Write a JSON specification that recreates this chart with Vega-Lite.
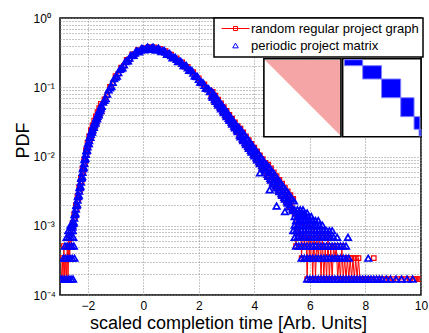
{
"$schema": "https://vega.github.io/schema/vega-lite/v6.json",
"width": 361, "height": 277,
"autosize": {"type": "none"},
"padding": {"left": 60, "top": 18, "right": 8, "bottom": 38},
"background": "white",
"config": {
  "font": "Liberation Sans",
  "view": {"stroke": "black", "strokeWidth": 1.5},
  "axis": {"ticks": false, "tickSize": 0, "domain": false, "grid": true, "gridColor": "#8a8a8a", "gridDash": [1, 2], "gridWidth": 1,
           "labelFont": "Liberation Sans", "labelFontSize": 12, "labelColor": "black", "titleFont": "Liberation Sans", "titleFontSize": 18, "titleFontWeight": "normal", "titleColor": "black", "labelOverlap": false, "labelBound": false, "labelFlush": false}
},
"datasets": {
  "blue": [
    {"x": -2.98, "y": 0.00017}, {"x": -2.92, "y": 0.00017}, {"x": -2.84, "y": 0.00017}, {"x": -2.76, "y": 0.00017}, {"x": -2.68, "y": 0.00017}, {"x": -2.6, "y": 0.00017}, {"x": -2.53, "y": 0.00017},
    {"x": -2.88, "y": 0.00034}, {"x": -2.8, "y": 0.00034}, {"x": -2.72, "y": 0.00034}, {"x": -2.64, "y": 0.00034}, {"x": -2.56, "y": 0.00034}, {"x": -2.48, "y": 0.00034},
    {"x": -2.82, "y": 0.00051}, {"x": -2.74, "y": 0.00051}, {"x": -2.66, "y": 0.00051}, {"x": -2.58, "y": 0.00051}, {"x": -2.5, "y": 0.00051},
    {"x": -2.76, "y": 0.00068}, {"x": -2.68, "y": 0.00068}, {"x": -2.6, "y": 0.00068}, {"x": -2.52, "y": 0.00068},
    {"x": -2.7, "y": 0.00085}, {"x": -2.62, "y": 0.00085}, {"x": -2.54, "y": 0.00085},
    {"x": -2.62, "y": 0.00102}, {"x": -2.56, "y": 0.00102},
    {"x": -2.55, "y": 0.000955}, {"x": -2.52, "y": 0.001096}, {"x": -2.49, "y": 0.001288}, {"x": -2.46, "y": 0.001479}, {"x": -2.43, "y": 0.001738}, {"x": -2.4, "y": 0.001995},
    {"x": -2.37, "y": 0.002344}, {"x": -2.34, "y": 0.002692}, {"x": -2.31, "y": 0.003162}, {"x": -2.28, "y": 0.003631}, {"x": -2.25, "y": 0.004266}, {"x": -2.22, "y": 0.005012},
    {"x": -2.19, "y": 0.005888}, {"x": -2.16, "y": 0.006918}, {"x": -2.13, "y": 0.007943}, {"x": -2.1, "y": 0.009333}, {"x": -2.07, "y": 0.01072}, {"x": -2.04, "y": 0.0123},
    {"x": -2.01, "y": 0.0138}, {"x": -1.98, "y": 0.01549}, {"x": -1.95, "y": 0.01698}, {"x": -1.92, "y": 0.01905}, {"x": -1.89, "y": 0.02089}, {"x": -1.86, "y": 0.02291},
    {"x": -1.83, "y": 0.02455}, {"x": -1.8, "y": 0.02692}, {"x": -1.77, "y": 0.02884}, {"x": -1.74, "y": 0.0309}, {"x": -1.71, "y": 0.03311}, {"x": -1.68, "y": 0.03548},
    {"x": -1.65, "y": 0.03802}, {"x": -1.62, "y": 0.04074}, {"x": -1.59, "y": 0.04365}, {"x": -1.56, "y": 0.04677}, {"x": -1.53, "y": 0.05012}, {"x": -1.5, "y": 0.0531},
    {"x": -2.535, "y": 0.001074}, {"x": -2.505, "y": 0.001129}, {"x": -2.475, "y": 0.001449}, {"x": -2.445, "y": 0.001523}, {"x": -2.415, "y": 0.001955}, {"x": -2.385, "y": 0.002055},
    {"x": -2.355, "y": 0.002638}, {"x": -2.325, "y": 0.002771}, {"x": -2.295, "y": 0.003557}, {"x": -2.265, "y": 0.003739}, {"x": -2.235, "y": 0.004855}, {"x": -2.205, "y": 0.005161},
    {"x": -2.175, "y": 0.006702}, {"x": -2.145, "y": 0.007042}, {"x": -2.115, "y": 0.00904}, {"x": -2.085, "y": 0.0095}, {"x": -2.055, "y": 0.01205}, {"x": -2.025, "y": 0.01238},
    {"x": -1.995, "y": 0.01535}, {"x": -1.965, "y": 0.01541}, {"x": -1.935, "y": 0.01889}, {"x": -1.905, "y": 0.01895}, {"x": -1.875, "y": 0.02297}, {"x": -1.845, "y": 0.02253},
    {"x": -1.815, "y": 0.027}, {"x": -1.785, "y": 0.02647}, {"x": -1.755, "y": 0.03134}, {"x": -1.725, "y": 0.03039}, {"x": -1.695, "y": 0.03599}, {"x": -1.665, "y": 0.03489},
    {"x": -1.635, "y": 0.04133}, {"x": -1.605, "y": 0.04006}, {"x": -1.575, "y": 0.04744}, {"x": -1.545, "y": 0.046}, {"x": -1.515, "y": 0.05417},
    {"x": -1.4, "y": 0.06457}, {"x": -1.3, "y": 0.07943}, {"x": -1.2, "y": 0.09772}, {"x": -1.1, "y": 0.1175}, {"x": -1.0, "y": 0.1396}, {"x": -0.9, "y": 0.1622},
    {"x": -0.8, "y": 0.1862}, {"x": -0.7, "y": 0.2113}, {"x": -0.6, "y": 0.2399}, {"x": -0.5, "y": 0.263}, {"x": -0.4, "y": 0.2884}, {"x": -0.3, "y": 0.3126},
    {"x": -0.2, "y": 0.3311}, {"x": -0.1, "y": 0.3467}, {"x": 0.0, "y": 0.3565}, {"x": 0.1, "y": 0.3639}, {"x": 0.2, "y": 0.3681}, {"x": 0.3, "y": 0.3681},
    {"x": 0.4, "y": 0.3631}, {"x": 0.5, "y": 0.3556}, {"x": 0.6, "y": 0.3467}, {"x": 0.7, "y": 0.335}, {"x": 0.8, "y": 0.3206}, {"x": 0.9, "y": 0.3041},
    {"x": 1.0, "y": 0.2864}, {"x": 1.1, "y": 0.2698}, {"x": 1.2, "y": 0.2529}, {"x": 1.3, "y": 0.2371}, {"x": 1.4, "y": 0.2213}, {"x": 1.5, "y": 0.2056},
    {"x": 1.6, "y": 0.1905}, {"x": 1.7, "y": 0.1762}, {"x": 1.8, "y": 0.1596}, {"x": 1.9, "y": 0.1442}, {"x": 2.0, "y": 0.1303}, {"x": 2.1, "y": 0.1178},
    {"x": 2.2, "y": 0.1064}, {"x": 2.3, "y": 0.09616}, {"x": 2.4, "y": 0.0867},
    {"x": -1.45, "y": 0.0609}, {"x": -1.35, "y": 0.06875}, {"x": -1.25, "y": 0.09162}, {"x": -1.15, "y": 0.1029}, {"x": -1.05, "y": 0.1332}, {"x": -0.95, "y": 0.1445},
    {"x": -0.85, "y": 0.1808}, {"x": -0.75, "y": 0.1905}, {"x": -0.65, "y": 0.2341}, {"x": -0.55, "y": 0.2412}, {"x": -0.45, "y": 0.2864}, {"x": -0.35, "y": 0.2883},
    {"x": -0.25, "y": 0.3346}, {"x": -0.15, "y": 0.3252}, {"x": -0.05, "y": 0.3657}, {"x": 0.05, "y": 0.3458}, {"x": 0.15, "y": 0.3806}, {"x": 0.25, "y": 0.3534},
    {"x": 0.35, "y": 0.3802}, {"x": 0.45, "y": 0.3449}, {"x": 0.55, "y": 0.3651}, {"x": 0.65, "y": 0.3272}, {"x": 0.75, "y": 0.3408}, {"x": 0.85, "y": 0.2997},
    {"x": 0.95, "y": 0.3069}, {"x": 1.05, "y": 0.2669}, {"x": 1.15, "y": 0.2716}, {"x": 1.25, "y": 0.2351}, {"x": 1.35, "y": 0.2383}, {"x": 1.45, "y": 0.2048},
    {"x": 1.55, "y": 0.2058}, {"x": 1.65, "y": 0.1759}, {"x": 1.75, "y": 0.1744}, {"x": 1.85, "y": 0.1456}, {"x": 1.95, "y": 0.1426}, {"x": 2.05, "y": 0.1189},
    {"x": 2.15, "y": 0.1165}, {"x": 2.25, "y": 0.09712}, {"x": 2.35, "y": 0.09496},
    {"x": 2.45, "y": 0.08718}, {"x": 2.5, "y": 0.07129}, {"x": 2.55, "y": 0.07685}, {"x": 2.6, "y": 0.06281}, {"x": 2.65, "y": 0.0677}, {"x": 2.7, "y": 0.05534},
    {"x": 2.75, "y": 0.05963}, {"x": 2.8, "y": 0.04875}, {"x": 2.85, "y": 0.05254}, {"x": 2.9, "y": 0.04295}, {"x": 2.95, "y": 0.04628}, {"x": 3.0, "y": 0.03784},
    {"x": 3.05, "y": 0.04078}, {"x": 3.1, "y": 0.03334}, {"x": 3.15, "y": 0.03593}, {"x": 3.2, "y": 0.02938}, {"x": 3.25, "y": 0.03166}, {"x": 3.3, "y": 0.02588},
    {"x": 3.35, "y": 0.02789}, {"x": 3.4, "y": 0.0228}, {"x": 3.45, "y": 0.02573}, {"x": 3.5, "y": 0.01919}, {"x": 3.55, "y": 0.02267}, {"x": 3.6, "y": 0.0169},
    {"x": 3.65, "y": 0.01998}, {"x": 3.7, "y": 0.01489}, {"x": 3.75, "y": 0.0176}, {"x": 3.8, "y": 0.01312}, {"x": 3.85, "y": 0.01551}, {"x": 3.9, "y": 0.01156},
    {"x": 3.95, "y": 0.01366}, {"x": 4.0, "y": 0.01019}, {"x": 4.05, "y": 0.01203}, {"x": 4.1, "y": 0.00898}, {"x": 4.15, "y": 0.0106}, {"x": 4.2, "y": 0.00791},
    {"x": 4.25, "y": 0.00934}, {"x": 4.3, "y": 0.00697}, {"x": 4.35, "y": 0.00823}, {"x": 4.4, "y": 0.00614}, {"x": 4.45, "y": 0.0076}, {"x": 4.5, "y": 0.00516},
    {"x": 4.55, "y": 0.00669}, {"x": 4.6, "y": 0.00455}, {"x": 4.65, "y": 0.00589}, {"x": 4.7, "y": 0.00401}, {"x": 4.75, "y": 0.00519}, {"x": 4.8, "y": 0.00353},
    {"x": 4.85, "y": 0.00457}, {"x": 4.9, "y": 0.00311}, {"x": 4.95, "y": 0.00403}, {"x": 5.0, "y": 0.00274}, {"x": 5.05, "y": 0.00355}, {"x": 5.1, "y": 0.00242},
    {"x": 5.15, "y": 0.00313}, {"x": 5.2, "y": 0.00213}, {"x": 5.25, "y": 0.00276}, {"x": 5.3, "y": 0.00187}, {"x": 5.35, "y": 0.00243}, {"x": 5.4, "y": 0.00165},
    {"x": 2.475, "y": 0.07593}, {"x": 2.525, "y": 0.08184}, {"x": 2.575, "y": 0.06694}, {"x": 2.625, "y": 0.07211}, {"x": 2.675, "y": 0.05897}, {"x": 2.725, "y": 0.06353},
    {"x": 2.775, "y": 0.05194}, {"x": 2.825, "y": 0.05597}, {"x": 2.875, "y": 0.04576}, {"x": 2.925, "y": 0.04931}, {"x": 2.975, "y": 0.04031}, {"x": 3.025, "y": 0.04344},
    {"x": 3.075, "y": 0.03552}, {"x": 3.125, "y": 0.03827}, {"x": 3.175, "y": 0.0313}, {"x": 3.225, "y": 0.03373}, {"x": 3.275, "y": 0.02758}, {"x": 3.325, "y": 0.02971},
    {"x": 3.375, "y": 0.02429}, {"x": 3.425, "y": 0.02617}, {"x": 3.475, "y": 0.02043}, {"x": 3.525, "y": 0.02416}, {"x": 3.575, "y": 0.018}, {"x": 3.625, "y": 0.02128},
    {"x": 3.675, "y": 0.01586}, {"x": 3.725, "y": 0.01875}, {"x": 3.775, "y": 0.01397}, {"x": 3.825, "y": 0.01652}, {"x": 3.875, "y": 0.01231}, {"x": 3.925, "y": 0.01455},
    {"x": 3.975, "y": 0.01085}, {"x": 4.025, "y": 0.01283}, {"x": 4.075, "y": 0.00955}, {"x": 4.125, "y": 0.01131}, {"x": 4.175, "y": 0.00842}, {"x": 4.225, "y": 0.00996},
    {"x": 4.275, "y": 0.00742}, {"x": 4.325, "y": 0.00878}, {"x": 4.375, "y": 0.00653}, {"x": 4.425, "y": 0.00773}, {"x": 4.475, "y": 0.00551}, {"x": 4.525, "y": 0.00712},
    {"x": 4.575, "y": 0.00485}, {"x": 4.625, "y": 0.00628}, {"x": 4.675, "y": 0.00427}, {"x": 4.725, "y": 0.00553}, {"x": 4.775, "y": 0.00376}, {"x": 4.825, "y": 0.00487},
    {"x": 4.875, "y": 0.00331}, {"x": 4.925, "y": 0.00429}, {"x": 4.975, "y": 0.00292}, {"x": 5.025, "y": 0.00378}, {"x": 5.075, "y": 0.00257}, {"x": 5.125, "y": 0.00334},
    {"x": 5.175, "y": 0.00227}, {"x": 5.225, "y": 0.00294}, {"x": 5.275, "y": 0.002}, {"x": 5.325, "y": 0.00258}, {"x": 5.375, "y": 0.00176}, {"x": 5.425, "y": 0.00228},
    {"x": 4.2, "y": 0.0058}, {"x": 4.55, "y": 0.0033}, {"x": 4.8, "y": 0.00193}, {"x": 5.1, "y": 0.0016},
    {"x": 5.45, "y": 0.0017}, {"x": 5.55, "y": 0.0017}, {"x": 5.65, "y": 0.0017}, {"x": 5.75, "y": 0.0017},
    {"x": 5.5, "y": 0.00153}, {"x": 5.6, "y": 0.00153}, {"x": 5.7, "y": 0.00153}, {"x": 5.8, "y": 0.00153}, {"x": 5.9, "y": 0.00153},
    {"x": 5.45, "y": 0.00136}, {"x": 5.55, "y": 0.00136}, {"x": 5.65, "y": 0.00136}, {"x": 5.75, "y": 0.00136}, {"x": 5.85, "y": 0.00136}, {"x": 5.95, "y": 0.00136}, {"x": 6.05, "y": 0.00136},
    {"x": 5.5, "y": 0.00119}, {"x": 5.6, "y": 0.00119}, {"x": 5.7, "y": 0.00119}, {"x": 5.8, "y": 0.00119}, {"x": 5.9, "y": 0.00119}, {"x": 6.0, "y": 0.00119}, {"x": 6.1, "y": 0.00119}, {"x": 6.2, "y": 0.00119}, {"x": 6.3, "y": 0.00119},
    {"x": 5.45, "y": 0.00102}, {"x": 5.55, "y": 0.00102}, {"x": 5.65, "y": 0.00102}, {"x": 5.75, "y": 0.00102}, {"x": 5.85, "y": 0.00102}, {"x": 5.95, "y": 0.00102}, {"x": 6.05, "y": 0.00102}, {"x": 6.15, "y": 0.00102}, {"x": 6.25, "y": 0.00102}, {"x": 6.35, "y": 0.00102}, {"x": 6.45, "y": 0.00102},
    {"x": 5.4, "y": 0.00085}, {"x": 5.5, "y": 0.00085}, {"x": 5.6, "y": 0.00085}, {"x": 5.7, "y": 0.00085}, {"x": 5.8, "y": 0.00085}, {"x": 5.9, "y": 0.00085}, {"x": 6.0, "y": 0.00085}, {"x": 6.1, "y": 0.00085}, {"x": 6.2, "y": 0.00085}, {"x": 6.3, "y": 0.00085}, {"x": 6.4, "y": 0.00085}, {"x": 6.5, "y": 0.00085}, {"x": 6.6, "y": 0.00085}, {"x": 6.7, "y": 0.00085}, {"x": 6.8, "y": 0.00085},
    {"x": 5.45, "y": 0.00068}, {"x": 5.55, "y": 0.00068}, {"x": 5.65, "y": 0.00068}, {"x": 5.75, "y": 0.00068}, {"x": 5.85, "y": 0.00068}, {"x": 5.95, "y": 0.00068}, {"x": 6.05, "y": 0.00068}, {"x": 6.15, "y": 0.00068}, {"x": 6.25, "y": 0.00068}, {"x": 6.35, "y": 0.00068}, {"x": 6.45, "y": 0.00068}, {"x": 6.55, "y": 0.00068}, {"x": 6.65, "y": 0.00068}, {"x": 6.75, "y": 0.00068}, {"x": 6.85, "y": 0.00068}, {"x": 6.98, "y": 0.00068}, {"x": 7.37, "y": 0.00068},
    {"x": 5.5, "y": 0.00051}, {"x": 5.6, "y": 0.00051}, {"x": 5.7, "y": 0.00051}, {"x": 5.8, "y": 0.00051}, {"x": 5.9, "y": 0.00051}, {"x": 6.0, "y": 0.00051}, {"x": 6.1, "y": 0.00051}, {"x": 6.2, "y": 0.00051}, {"x": 6.3, "y": 0.00051}, {"x": 6.4, "y": 0.00051}, {"x": 6.5, "y": 0.00051}, {"x": 6.6, "y": 0.00051}, {"x": 6.7, "y": 0.00051}, {"x": 6.8, "y": 0.00051}, {"x": 6.9, "y": 0.00051}, {"x": 7.0, "y": 0.00051}, {"x": 7.1, "y": 0.00051}, {"x": 7.2, "y": 0.00051}, {"x": 7.3, "y": 0.00051},
    {"x": 5.7, "y": 0.00034}, {"x": 5.8, "y": 0.00034}, {"x": 5.9, "y": 0.00034}, {"x": 6.0, "y": 0.00034}, {"x": 6.1, "y": 0.00034}, {"x": 6.2, "y": 0.00034}, {"x": 6.3, "y": 0.00034}, {"x": 6.4, "y": 0.00034}, {"x": 6.5, "y": 0.00034}, {"x": 6.6, "y": 0.00034}, {"x": 6.7, "y": 0.00034}, {"x": 6.8, "y": 0.00034}, {"x": 6.9, "y": 0.00034}, {"x": 7.0, "y": 0.00034}, {"x": 7.1, "y": 0.00034}, {"x": 7.2, "y": 0.00034}, {"x": 7.3, "y": 0.00034}, {"x": 7.4, "y": 0.00034}, {"x": 8.1, "y": 0.00034},
    {"x": 5.9, "y": 0.00017}, {"x": 6.0, "y": 0.00017}, {"x": 6.1, "y": 0.00017}, {"x": 6.2, "y": 0.00017}, {"x": 6.3, "y": 0.00017}, {"x": 6.4, "y": 0.00017}, {"x": 6.5, "y": 0.00017}, {"x": 6.6, "y": 0.00017}, {"x": 6.7, "y": 0.00017}, {"x": 6.8, "y": 0.00017},
    {"x": 6.9, "y": 0.00017}, {"x": 7.0, "y": 0.00017}, {"x": 7.1, "y": 0.00017}, {"x": 7.2, "y": 0.00017}, {"x": 7.3, "y": 0.00017}, {"x": 7.4, "y": 0.00017}, {"x": 7.5, "y": 0.00017}, {"x": 7.6, "y": 0.00017}, {"x": 7.7, "y": 0.00017}, {"x": 7.8, "y": 0.00017},
    {"x": 7.9, "y": 0.00017}, {"x": 8.0, "y": 0.00017}, {"x": 8.1, "y": 0.00017}, {"x": 8.2, "y": 0.00017}, {"x": 8.3, "y": 0.00017}, {"x": 8.4, "y": 0.00017}, {"x": 8.5, "y": 0.00017}, {"x": 8.6, "y": 0.00017},
    {"x": 8.75, "y": 0.00017}, {"x": 8.9, "y": 0.00017}, {"x": 9.1, "y": 0.00017}, {"x": 9.3, "y": 0.00017}, {"x": 9.5, "y": 0.00017}, {"x": 9.7, "y": 0.00017}
  ],
  "red": [
    {"x": -2.98, "y": 0.00017}, {"x": -2.95, "y": 0.00017}, {"x": -2.92, "y": 0.00034}, {"x": -2.89, "y": 0.00017}, {"x": -2.86, "y": 0.00051}, {"x": -2.83, "y": 0.00017},
    {"x": -2.8, "y": 0.00034}, {"x": -2.77, "y": 0.00017}, {"x": -2.74, "y": 0.00051}, {"x": -2.71, "y": 0.00017}, {"x": -2.68, "y": 0.00068}, {"x": -2.65, "y": 0.00034},
    {"x": -2.62, "y": 0.00085}, {"x": -2.59, "y": 0.00051},
    {"x": -2.55, "y": 0.001096}, {"x": -2.52, "y": 0.000955}, {"x": -2.49, "y": 0.001479}, {"x": -2.46, "y": 0.001288}, {"x": -2.43, "y": 0.001995}, {"x": -2.4, "y": 0.001738},
    {"x": -2.37, "y": 0.002692}, {"x": -2.34, "y": 0.002344}, {"x": -2.31, "y": 0.003631}, {"x": -2.28, "y": 0.003162}, {"x": -2.25, "y": 0.004898}, {"x": -2.22, "y": 0.004365},
    {"x": -2.19, "y": 0.006761}, {"x": -2.16, "y": 0.006026}, {"x": -2.13, "y": 0.00912}, {"x": -2.1, "y": 0.008128}, {"x": -2.07, "y": 0.0123}, {"x": -2.04, "y": 0.01072},
    {"x": -2.01, "y": 0.01585}, {"x": -1.98, "y": 0.01349}, {"x": -1.95, "y": 0.0195}, {"x": -1.92, "y": 0.0166}, {"x": -1.89, "y": 0.02399}, {"x": -1.86, "y": 0.01995},
    {"x": -1.83, "y": 0.02818}, {"x": -1.8, "y": 0.02344}, {"x": -1.77, "y": 0.03311}, {"x": -1.74, "y": 0.02692}, {"x": -1.71, "y": 0.03802}, {"x": -1.68, "y": 0.0309},
    {"x": -1.65, "y": 0.04365}, {"x": -1.62, "y": 0.03548}, {"x": -1.59, "y": 0.05012}, {"x": -1.56, "y": 0.04074}, {"x": -1.53, "y": 0.05754}, {"x": -1.5, "y": 0.04624},
    {"x": -1.4, "y": 0.06683}, {"x": -1.3, "y": 0.07674}, {"x": -1.2, "y": 0.1011}, {"x": -1.1, "y": 0.1135}, {"x": -1.0, "y": 0.1445}, {"x": -0.9, "y": 0.1567},
    {"x": -0.8, "y": 0.1927}, {"x": -0.7, "y": 0.2042}, {"x": -0.6, "y": 0.2483}, {"x": -0.5, "y": 0.2541}, {"x": -0.4, "y": 0.2985}, {"x": -0.3, "y": 0.302},
    {"x": -0.2, "y": 0.3427}, {"x": -0.1, "y": 0.335}, {"x": 0.0, "y": 0.369}, {"x": 0.1, "y": 0.3516}, {"x": 0.2, "y": 0.381}, {"x": 0.3, "y": 0.3557},
    {"x": 0.4, "y": 0.3758}, {"x": 0.5, "y": 0.3436}, {"x": 0.6, "y": 0.3588}, {"x": 0.7, "y": 0.3237}, {"x": 0.8, "y": 0.3318}, {"x": 0.9, "y": 0.2938},
    {"x": 1.0, "y": 0.2964}, {"x": 1.1, "y": 0.2607}, {"x": 1.2, "y": 0.2618}, {"x": 1.3, "y": 0.2291}, {"x": 1.4, "y": 0.229}, {"x": 1.5, "y": 0.1986},
    {"x": 1.6, "y": 0.1972}, {"x": 1.7, "y": 0.1702}, {"x": 1.8, "y": 0.1652}, {"x": 1.9, "y": 0.1393}, {"x": 2.0, "y": 0.1349}, {"x": 2.1, "y": 0.1138},
    {"x": 2.2, "y": 0.1101}, {"x": 2.3, "y": 0.09291}, {"x": 2.4, "y": 0.08973},
    {"x": 2.45, "y": 0.07254}, {"x": 2.5, "y": 0.0857}, {"x": 2.55, "y": 0.0639}, {"x": 2.6, "y": 0.07551}, {"x": 2.65, "y": 0.05631}, {"x": 2.7, "y": 0.06653},
    {"x": 2.75, "y": 0.04959}, {"x": 2.8, "y": 0.05861}, {"x": 2.85, "y": 0.0437}, {"x": 2.9, "y": 0.05164}, {"x": 2.95, "y": 0.0385}, {"x": 3.0, "y": 0.0455},
    {"x": 3.05, "y": 0.03392}, {"x": 3.1, "y": 0.04009}, {"x": 3.15, "y": 0.02988}, {"x": 3.2, "y": 0.03532}, {"x": 3.25, "y": 0.02633}, {"x": 3.3, "y": 0.03112},
    {"x": 3.35, "y": 0.0232}, {"x": 3.4, "y": 0.02742}, {"x": 3.45, "y": 0.01952}, {"x": 3.5, "y": 0.02529}, {"x": 3.55, "y": 0.01719}, {"x": 3.6, "y": 0.02228},
    {"x": 3.65, "y": 0.01515}, {"x": 3.7, "y": 0.01963}, {"x": 3.75, "y": 0.01335}, {"x": 3.8, "y": 0.0173}, {"x": 3.85, "y": 0.01176}, {"x": 3.9, "y": 0.01524},
    {"x": 3.95, "y": 0.01036}, {"x": 4.0, "y": 0.01343}, {"x": 4.05, "y": 0.00913}, {"x": 4.1, "y": 0.01183}, {"x": 4.15, "y": 0.00804}, {"x": 4.2, "y": 0.01042},
    {"x": 4.25, "y": 0.00709}, {"x": 4.3, "y": 0.00918}, {"x": 4.35, "y": 0.00625}, {"x": 4.4, "y": 0.00809}, {"x": 4.45, "y": 0.00513}, {"x": 4.5, "y": 0.00764},
    {"x": 4.55, "y": 0.00452}, {"x": 4.6, "y": 0.00673}, {"x": 4.65, "y": 0.00399}, {"x": 4.7, "y": 0.00593}, {"x": 4.75, "y": 0.00351}, {"x": 4.8, "y": 0.00522},
    {"x": 4.85, "y": 0.00309}, {"x": 4.9, "y": 0.0046}, {"x": 4.95, "y": 0.00273}, {"x": 5.0, "y": 0.00406}, {"x": 5.05, "y": 0.0024}, {"x": 5.1, "y": 0.00357},
    {"x": 5.15, "y": 0.00212}, {"x": 5.2, "y": 0.00315}, {"x": 5.25, "y": 0.00186}, {"x": 5.3, "y": 0.00277}, {"x": 5.35, "y": 0.00164}, {"x": 5.4, "y": 0.00244},
    {"x": 5.45, "y": 0.00153}, {"x": 5.5, "y": 0.00051}, {"x": 5.55, "y": 0.00136}, {"x": 5.6, "y": 0.00068}, {"x": 5.65, "y": 0.00119}, {"x": 5.7, "y": 0.00034},
    {"x": 5.75, "y": 0.00136}, {"x": 5.8, "y": 0.00051}, {"x": 5.85, "y": 0.00102}, {"x": 5.9, "y": 0.00017}, {"x": 5.95, "y": 0.00085}, {"x": 6.0, "y": 0.00034},
    {"x": 6.05, "y": 0.00102}, {"x": 6.1, "y": 0.00017}, {"x": 6.15, "y": 0.00085}, {"x": 6.2, "y": 0.00017}, {"x": 6.25, "y": 0.00068}, {"x": 6.3, "y": 0.00034},
    {"x": 6.35, "y": 0.00085}, {"x": 6.4, "y": 0.00017}, {"x": 6.45, "y": 0.00068}, {"x": 6.5, "y": 0.00017}, {"x": 6.55, "y": 0.00051}, {"x": 6.6, "y": 0.00017},
    {"x": 6.65, "y": 0.00068}, {"x": 6.7, "y": 0.00017}, {"x": 6.75, "y": 0.00051}, {"x": 6.8, "y": 0.00017}, {"x": 6.85, "y": 0.00051}, {"x": 6.9, "y": 0.00034},
    {"x": 6.95, "y": 0.00051}, {"x": 7.0, "y": 0.00017}, {"x": 7.05, "y": 0.00034}, {"x": 7.1, "y": 0.00017}, {"x": 7.15, "y": 0.00051}, {"x": 7.2, "y": 0.00017},
    {"x": 7.25, "y": 0.00034}, {"x": 7.3, "y": 0.00017}, {"x": 7.35, "y": 0.00034}, {"x": 7.4, "y": 0.00017}, {"x": 7.45, "y": 0.00034}, {"x": 7.5, "y": 0.00017},
    {"x": 7.55, "y": 0.00034}, {"x": 7.6, "y": 0.00017}, {"x": 7.65, "y": 0.00034}, {"x": 7.7, "y": 0.00017}, {"x": 7.75, "y": 0.00034}, {"x": 7.8, "y": 0.00017},
    {"x": 7.9, "y": 0.00017}, {"x": 8.0, "y": 0.00017}, {"x": 8.1, "y": 0.00017}, {"x": 8.2, "y": 0.00017},
    {"x": 8.25, "y": null}, {"x": 8.3, "y": 0.00034}, {"x": 8.35, "y": null},
    {"x": 8.45, "y": 0.00017}, {"x": 8.6, "y": 0.00017}, {"x": 8.75, "y": 0.00017}, {"x": 8.85, "y": 0.00017}, {"x": 9.0, "y": 0.00017}, {"x": 9.15, "y": 0.00017},
    {"x": 9.3, "y": 0.00017}, {"x": 9.45, "y": 0.00017}, {"x": 9.6, "y": 0.00017}, {"x": 9.75, "y": 0.00017}, {"x": 9.85, "y": 0.00017}, {"x": 9.96, "y": 0.00017}
  ],
  "boxes": [
    {"x": 4.342, "x2": 7.117, "y": 0.0193, "y2": 0.258},
    {"x": 7.178, "x2": 10, "y": 0.0193, "y2": 0.258}
  ],
  "triangle": [
    {"x": 4.38, "y": 0.247, "y2": 0.247},
    {"x": 7.08, "y": 0.247, "y2": 0.0205}
  ],
  "blocks": [
    {"x": 7.24, "x2": 7.9, "y": 0.25, "y2": 0.205},
    {"x": 7.9, "x2": 8.58, "y": 0.205, "y2": 0.1316},
    {"x": 8.58, "x2": 9.27, "y": 0.1316, "y2": 0.0706},
    {"x": 9.27, "x2": 9.75, "y": 0.0706, "y2": 0.0376},
    {"x": 9.75, "x2": 9.96, "y": 0.0376, "y2": 0.0247},
    {"x": 9.93, "x2": 10, "y": 0.0247, "y2": 0.0198}
  ]
},
"encoding": {
  "x": {"field": "x", "type": "quantitative",
        "scale": {"domain": [-3, 10], "nice": false, "zero": false},
        "axis": {"values": [-2, 0, 2, 4, 6, 8, 10], "labelPadding": 5, "title": "scaled completion time [Arb. Units]",
                 "titleX": 168, "titleY": 33, "titleBaseline": "alphabetic", "titleAlign": "center"}},
  "y": {"field": "y", "type": "quantitative",
        "scale": {"type": "log", "domain": [0.0001, 1], "nice": false},
        "axis": {"values": [0.0001, 0.0002, 0.0003, 0.0004, 0.0005, 0.0006, 0.0007, 0.0008, 0.0009, 0.001, 0.002, 0.003, 0.004, 0.005, 0.006, 0.007, 0.008, 0.009, 0.01, 0.02, 0.03, 0.04, 0.05, 0.06, 0.07, 0.08, 0.09, 0.1, 0.2, 0.3, 0.4, 0.5, 0.6, 0.7, 0.8, 0.9, 1],
                 "labelExpr": "datum.value == 1 ? '10⁰' : datum.value == 0.1 ? '10⁻¹' : datum.value == 0.01 ? '10⁻²' : datum.value == 0.001 ? '10⁻³' : datum.value == 0.0001 ? '10⁻⁴' : ''",
                 "labelAlign": "left", "labelPadding": 27, "title": "PDF",
                 "titleX": -32, "titleY": 122, "titleBaseline": "alphabetic", "titleAlign": "center", "titleAngle": 270}}
},
"layer": [
  {"data": {"name": "red"},
   "mark": {"type": "line", "strokeWidth": 1, "clip": true, "invalid": "break-paths-filter-domains"},
   "encoding": {"color": {"datum": "random regular project graph", "type": "nominal",
     "scale": {"domain": ["random regular project graph", "periodic project matrix"], "range": ["#ff0000", "#0000ff"]},
     "legend": {"orient": "none", "legendX": 154, "legendY": 0, "title": null, "fillColor": "white", "strokeColor": "black",
       "padding": 4, "rowPadding": 3, "labelFont": "Liberation Sans", "labelFontSize": 13, "labelColor": "black", "labelLimit": 400,
       "labelOffset": 9, "symbolOffset": 11, "symbolSize": 100, "symbolStrokeWidth": 1,
       "encode": {
         "symbols": {"update": {
           "shape": {"signal": "datum.value == 'random regular project graph' ? 'M-2.8,0H2.8M-0.4,-0.4H0.4V0.4H-0.4Z' : 'triangle-up'"},
           "size": {"signal": "datum.value == 'random regular project graph' ? 100 : 30"},
           "fill": {"value": "transparent"}, "strokeWidth": {"value": 1}}},
         "legend": {"update": {"strokeWidth": {"value": 1.5}}}}}}}},
  {"data": {"name": "red"},
   "mark": {"type": "point", "shape": "square", "filled": false, "size": 20, "strokeWidth": 1.2, "opacity": 1, "clip": true},
   "encoding": {"color": {"datum": "random regular project graph", "type": "nominal"}}},
  {"data": {"name": "blue"},
   "mark": {"type": "point", "shape": "triangle-up", "filled": false, "size": 42, "strokeWidth": 1.7, "opacity": 1, "clip": true},
   "encoding": {"color": {"datum": "periodic project matrix", "type": "nominal"}}},
  {"data": {"name": "boxes"},
   "mark": {"type": "rect", "fill": "white", "stroke": "black", "strokeWidth": 1.6},
   "encoding": {"x2": {"field": "x2"}, "y2": {"field": "y2"}}},
  {"data": {"name": "triangle"},
   "mark": {"type": "area", "fill": "#f5a5a5", "opacity": 1},
   "encoding": {"y2": {"field": "y2"}}},
  {"data": {"name": "blocks"},
   "mark": {"type": "rect", "fill": "#0000ff", "stroke": "#8080ff", "strokeWidth": 1},
   "encoding": {"x2": {"field": "x2"}, "y2": {"field": "y2"}}}
]
}
